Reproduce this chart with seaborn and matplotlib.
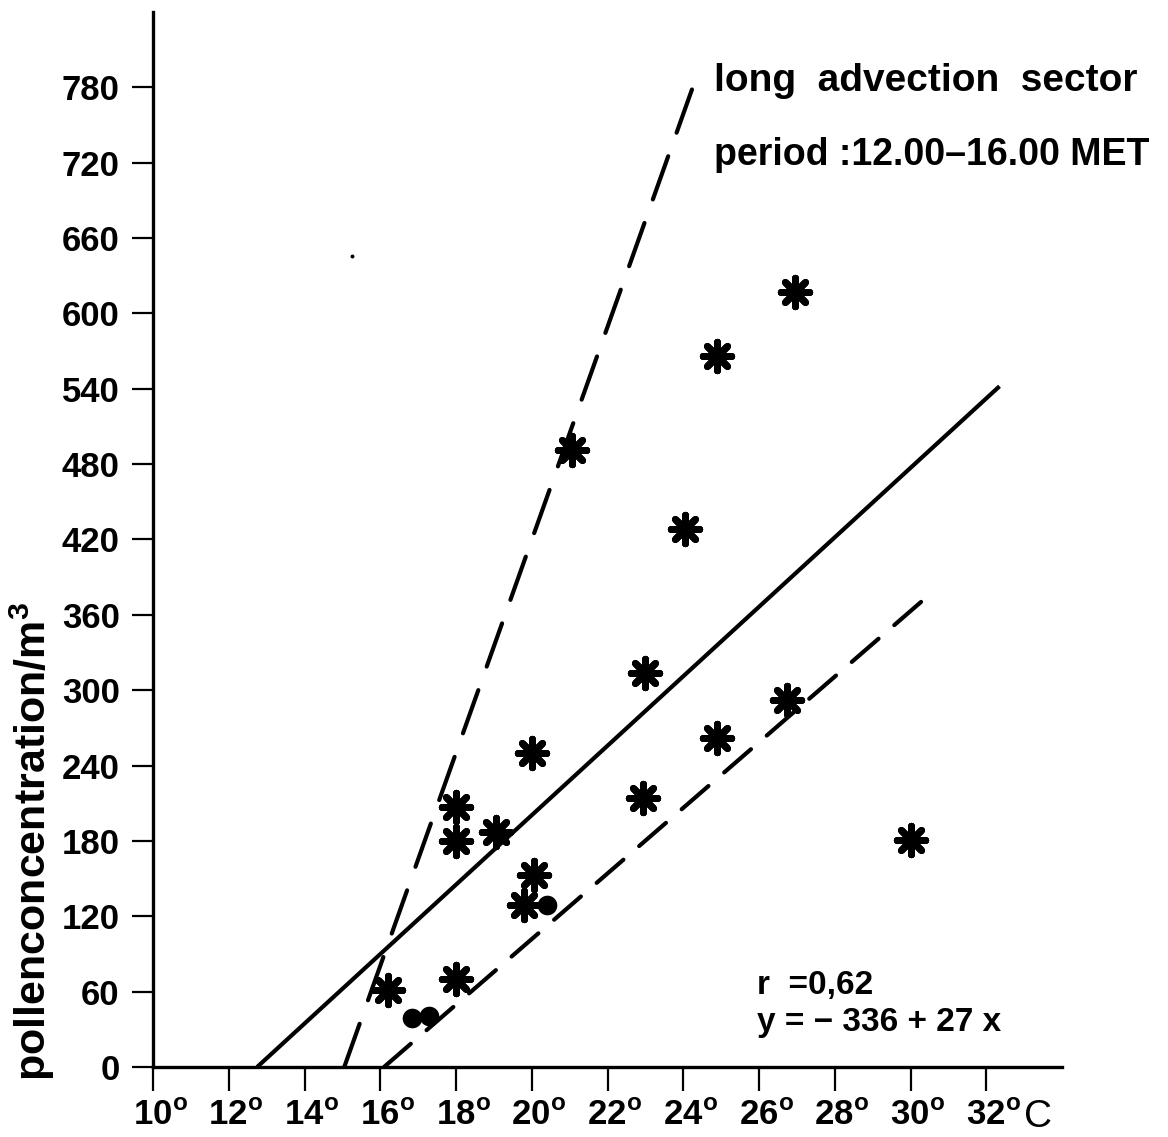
# Pollen concentration vs. temperature, long advection sector
import matplotlib
matplotlib.use('Agg')
import matplotlib.pyplot as plt
import matplotlib.transforms as mtransforms
import seaborn as sns
import pandas as pd

# == datos ==

# estrellas
temp_star = [16.2, 18.0, 18.0, 18.0, 19.05, 20.0, 20.05, 19.8, 21.05, 23.0, 22.95,
             24.05, 24.9, 24.9, 26.95, 26.75, 30.0]
pol_star = [61, 70, 180, 207, 187, 250, 153, 129, 491, 314, 214,
            428, 566, 262, 617, 292, 181]

# puntos llenos
temp_dot = [16.85, 17.3, 20.4]
pol_dot = [39, 41, 129]

# punto suelto (mancha en el original)
temp_speck = [15.25]
pol_speck = [646]

# recta de regresión y límites (extremos)
reg_x = [12.75, 32.35]
reg_y = [0, 542]
sup_x = [15.05, 24.25]
sup_y = [0, 780]
inf_x = [16.1, 30.65]
inf_y = [0, 380]

xticks = list(range(10, 33, 2))
yticks = list(range(0, 781, 60))

# == estilo ==
sns.set_theme(style='ticks')
plt.rcParams['font.family'] = ['Liberation Sans', 'DejaVu Sans']
plt.rcParams['mathtext.fontset'] = 'custom'
plt.rcParams['mathtext.rm'] = 'Liberation Sans'
plt.rcParams['mathtext.bf'] = 'Liberation Sans:bold'
for k in ['text.color', 'axes.labelcolor', 'xtick.color', 'ytick.color', 'axes.edgecolor']:
    plt.rcParams[k] = 'black'

fig = plt.figure(figsize=(11.68, 11.37), dpi=100)
ax = fig.add_axes([153 / 1168, 1 - 1067 / 1137, (1062 - 153) / 1168, (1067 - 12) / 1137])

df_star = pd.DataFrame({'temp': temp_star, 'pol': pol_star})
df_dot = pd.DataFrame({'temp': temp_dot, 'pol': pol_dot})

# líneas
ax.plot(reg_x, reg_y, color='black', lw=3.0, solid_capstyle='butt')
ax.plot(sup_x, sup_y, color='black', lw=3.0, dashes=(11, 6), dash_capstyle='round')
ax.plot(inf_x, inf_y, color='black', lw=3.0, dashes=(8.5, 5), dash_capstyle='round')

# puntos
sns.scatterplot(data=df_star, x='temp', y='pol', marker=(8, 2, 0), s=420,
                color='black', linewidth=5, ax=ax, zorder=5)
sns.scatterplot(data=df_star, x='temp', y='pol', marker='o', s=90,
                color='black', linewidth=0, ax=ax, zorder=5)
sns.scatterplot(data=df_dot, x='temp', y='pol', marker='o', s=200,
                color='black', linewidth=0, ax=ax, zorder=5)
ax.scatter(temp_speck, pol_speck, s=8, color='black', linewidths=0)

ax.set_xlim(10, 34)
ax.set_ylim(0, 840)
sns.despine(ax=ax)
for s in ['left', 'bottom']:
    ax.spines[s].set_linewidth(2.4)

ax.set_xticks(xticks)
ax.set_xticklabels([f'{t}$^{{\\bf o}}$' for t in xticks])
ax.set_yticks(yticks)
ax.set_yticklabels([str(v) for v in yticks])
ax.tick_params(axis='x', length=17, width=1.6, pad=6, labelsize=25)
ax.tick_params(axis='y', length=15, width=1.6, pad=9, labelsize=25)
for lbl in ax.get_xticklabels() + ax.get_yticklabels():
    lbl.set_fontweight('bold')
off = mtransforms.ScaledTranslation(7 / 100, 0, fig.dpi_scale_trans)
for lbl in ax.get_xticklabels():
    lbl.set_transform(lbl.get_transform() + off)

ax.set_xlabel('')
ax.set_ylabel('pollenconcentration/m$^{\\bf 3}$', fontsize=31, fontweight='bold',
              ha='center', va='center')
ax.yaxis.set_label_coords((32 - 153) / 909, (1067 - 841) / 1055)

# "C" de la escala
ax.text(33.0, -0.057, 'C', transform=ax.get_xaxis_transform(), fontsize=28,
        va='baseline', ha='left')

# textos
ax.text(0.617, 0.935, 'long  advection  sector', transform=ax.transAxes,
        fontsize=28, fontweight='bold', va='center', ha='left')
ax.text(0.617, 0.864, 'period :12.00\u201316.00 MET', transform=ax.transAxes,
        fontsize=27, fontweight='bold', va='center', ha='left')
ax.text(0.665, 0.0776, 'r  =0,62', transform=ax.transAxes,
        fontsize=24, fontweight='bold', va='center', ha='left')
ax.text(0.665, 0.0426, 'y = \u2212 336 + 27 x', transform=ax.transAxes,
        fontsize=24, fontweight='bold', va='center', ha='left')

plt.savefig('out.png', dpi=100)
plt.close('all')
